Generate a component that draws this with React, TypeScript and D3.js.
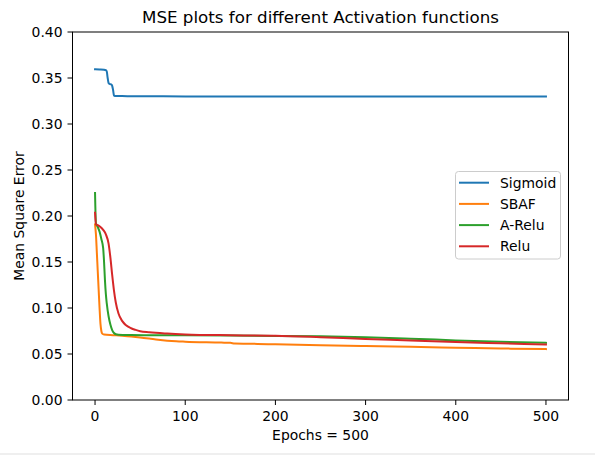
import React from "react";
import * as d3 from "d3";

const xTicks = [0, 100, 200, 300, 400, 500];
const yTicks = [0, 0.05, 0.1, 0.15, 0.2, 0.25, 0.3, 0.35, 0.4];

const seriesNames = ["Sigmoid", "SBAF", "A-Relu", "Relu"];
const seriesColors = ["#1f77b4", "#ff7f0e", "#2ca02c", "#d62728"];

const sigmoidEpochs = [0, 5, 10, 12, 13, 14, 15, 16, 18, 19, 20, 21, 22, 30, 60, 100, 200, 300, 400, 500];
const sigmoidValues = [0.3595, 0.3593, 0.359, 0.3585, 0.357, 0.35, 0.3445, 0.3435, 0.343, 0.3415, 0.337, 0.331, 0.3305, 0.3303, 0.3302, 0.33, 0.33, 0.33, 0.33, 0.33];

const sbafEpochs = [0, 1, 2, 3, 4, 5, 6, 7, 8, 10, 20, 30, 40, 50, 60, 70, 80, 90, 100, 140, 150, 155, 180, 200, 250, 300, 350, 400, 450, 500];
const sbafValues = [0.191, 0.18, 0.16, 0.14, 0.12, 0.1, 0.083, 0.075, 0.0722, 0.0712, 0.0705, 0.0698, 0.069, 0.068, 0.0668, 0.0655, 0.0645, 0.0638, 0.0634, 0.0624, 0.0621, 0.0613, 0.061, 0.0605, 0.0595, 0.0587, 0.0578, 0.0568, 0.056, 0.0553];

const areluEpochs = [0, 1, 3, 5, 7, 9, 10, 11, 12, 13, 15, 17, 19, 21, 23, 26, 40, 60, 100, 150, 200, 250, 300, 350, 400, 450, 500];
const areluValues = [0.225, 0.192, 0.188, 0.183, 0.175, 0.165, 0.15, 0.13, 0.115, 0.105, 0.091, 0.082, 0.076, 0.0728, 0.0715, 0.071, 0.0706, 0.0704, 0.0703, 0.07, 0.0697, 0.0693, 0.0683, 0.0667, 0.0648, 0.0632, 0.0621];

const reluEpochs = [0, 1, 3, 6, 9, 12, 15, 17, 19, 21, 23, 26, 30, 34, 40, 45, 50, 60, 80, 100, 150, 200, 250, 300, 350, 400, 450, 500];
const reluValues = [0.2035, 0.191, 0.19, 0.188, 0.185, 0.18, 0.17, 0.155, 0.136, 0.119, 0.106, 0.094, 0.086, 0.0815, 0.078, 0.0762, 0.0748, 0.0736, 0.0722, 0.0713, 0.0704, 0.0699, 0.0683, 0.0664, 0.0648, 0.063, 0.0616, 0.0604];

const seriesEpochs = [sigmoidEpochs, sbafEpochs, areluEpochs, reluEpochs];
const seriesValues = [sigmoidValues, sbafValues, areluValues, reluValues];

const W = 595;
const H = 455;
const left = 72.5;
const right = 568.5;
const top = 32;
const bottom = 400;
const font = "DejaVu Sans, sans-serif";
const fs = 13.9;

export default function App() {
  const x = d3.scaleLinear().domain([-25, 525]).range([left, right]);
  const y = d3.scaleLinear().domain([0, 0.4]).range([bottom, top]);
  const line = d3
    .line<[number, number]>()
    .x((d) => x(d[0]))
    .y((d) => y(d[1]))
    .curve(d3.curveMonotoneX);

  const legX = 455.5;
  const legY = 171.5;
  const legW = 105;
  const legH = 87.5;
  const legRowY = [182.7, 203.9, 225.1, 246.3];

  return (
    <svg width={W} height={H} style={{ position: "absolute", left: 0, top: 0 }} fontFamily={font}>
      <rect x={0} y={0} width={W} height={H} fill="#ffffff" />
      <rect x={0} y={453} width={W} height={2} fill="#efefef" />
      <text x={(left + right) / 2} y={22.5} textAnchor="middle" fontSize={16.7} fill="#000">
        MSE plots for different Activation functions
      </text>
      {seriesNames.map((name, i) => {
        const pts: [number, number][] = seriesEpochs[i].map((e, j) => [e, seriesValues[i][j]]);
        return (
          <path key={name} d={line(pts) || ""} fill="none" stroke={seriesColors[i]} strokeWidth={2} strokeLinejoin="round" strokeLinecap="square" />
        );
      })}
      <rect x={left} y={top} width={right - left} height={bottom - top} fill="none" stroke="#000" strokeWidth={1} />
      {xTicks.map((t) => (
        <g key={"x" + t}>
          <line x1={x(t)} x2={x(t)} y1={bottom} y2={bottom + 5} stroke="#000" strokeWidth={1} />
          <text x={x(t)} y={421} textAnchor="middle" fontSize={fs} fill="#000">
            {t}
          </text>
        </g>
      ))}
      {yTicks.map((t) => (
        <g key={"y" + t}>
          <line x1={left - 5} x2={left} y1={y(t)} y2={y(t)} stroke="#000" strokeWidth={1} />
          <text x={left - 10} y={y(t) + 5} textAnchor="end" fontSize={fs} fill="#000">
            {t.toFixed(2)}
          </text>
        </g>
      ))}
      <text x={(left + right) / 2} y={439.5} textAnchor="middle" fontSize={fs} fill="#000">
        Epochs = 500
      </text>
      <text
        transform={`translate(23.5, ${(top + bottom) / 2}) rotate(-90)`}
        textAnchor="middle"
        fontSize={fs}
        fill="#000"
      >
        Mean Square Error
      </text>
      <rect x={legX} y={legY} width={legW} height={legH} rx={3} ry={3} fill="#ffffff" fillOpacity={0.8} stroke="#cccccc" strokeWidth={1} />
      {seriesNames.map((name, i) => (
        <g key={"leg" + name}>
          <line x1={459} x2={489} y1={legRowY[i]} y2={legRowY[i]} stroke={seriesColors[i]} strokeWidth={2} />
          <text x={500} y={legRowY[i] + 5} fontSize={fs} fill="#000">
            {name}
          </text>
        </g>
      ))}
    </svg>
  );
}
